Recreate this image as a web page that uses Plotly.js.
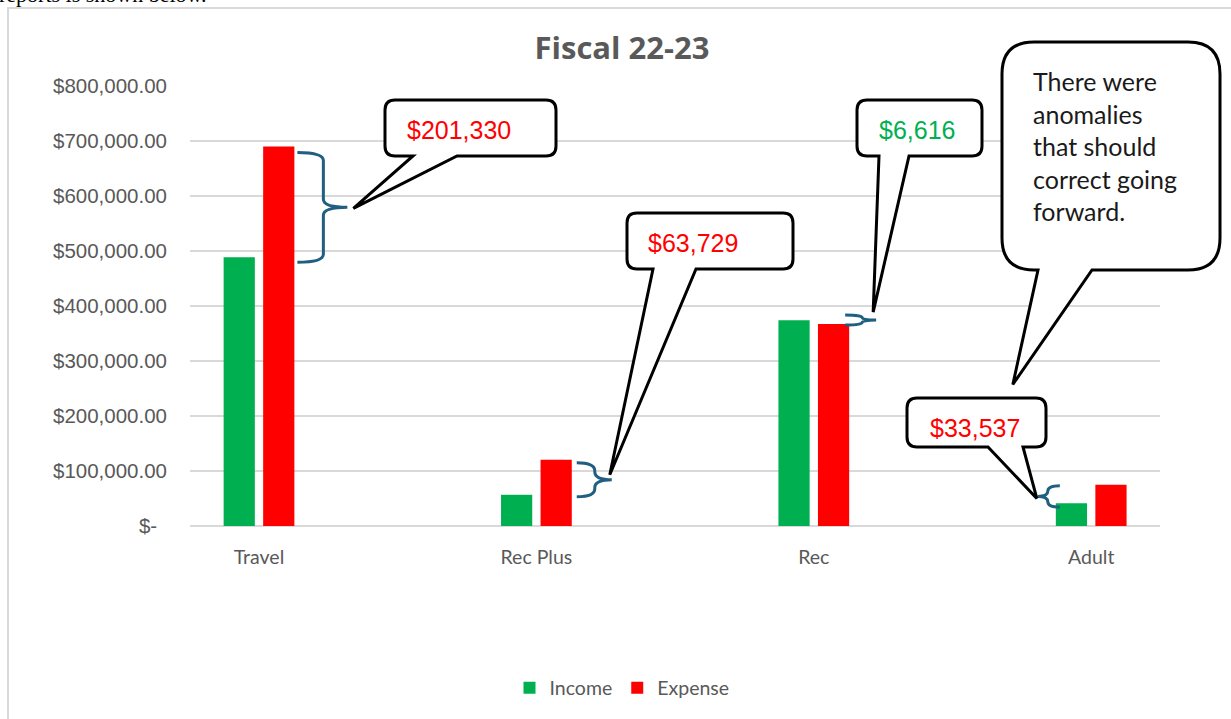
<!DOCTYPE html>
<html>
<head>
<meta charset="utf-8">
<script src="https://cdn.plot.ly/plotly-3.0.1.min.js"></script>
<style>html,body{margin:0;padding:0;background:#fff;}#chart{width:1231px;height:719px;}</style>
</head>
<body>
<div id="chart"></div>
<script>
// ---------- data ----------
const categories = ['Travel', 'Rec Plus', 'Rec', 'Adult'];
const seriesNames = ['Income', 'Expense'];
const income  = [488670, 56771, 374000, 41500];
const expense = [690000, 120500, 367384, 75037];
const yTickVals = [0, 100000, 200000, 300000, 400000, 500000, 600000, 700000, 800000];
const diffLabels = ['$201,330', '$63,729', '$6,616', '$33,537'];
const noteLines = ['There were', 'anomalies', 'that should', 'correct going', 'forward.'];
const chartTitle = 'Fiscal 22-23';
const pageText = 'reports is shown below.';

// ---------- style / geometry ----------
const W = 1231, H = 719;
const M = {l: 190, r: 71, t: 86, b: 193};
const PW = W - M.l - M.r, PH = H - M.t - M.b;
const XR = [-0.24874, 3.24802];
const YR = [0, 800000];
const BAR_W = 0.1125, INC_OFF = -0.1275, EXP_OFF = 0.015;
const C_INC = '#00B050', C_EXP = '#FF0000', C_TXT = '#595959', C_GRID = '#D9D9D9', C_BRACE = '#215F82';

const x2px = x => M.l + (x - XR[0]) / (XR[1] - XR[0]) * PW;
const y2py = y => M.t + PH - (y - YR[0]) / (YR[1] - YR[0]) * PH;
const px2p = px => (px - M.l) / PW;
const py2p = py => (M.t + PH - py) / PH;
const P = (x, y) => px2p(x).toFixed(5) + ',' + py2p(y).toFixed(5);

const xIdx = categories.map((c, i) => i);
const fmtTick = v => v === 0 ? '$-\u00a0\u2009' : '$' + v.toLocaleString('en-US', {minimumFractionDigits: 2, maximumFractionDigits: 2});

// brace styling (pixel offsets relative to the bar edges / bar tops)
const braceStyle = [
  {side: 'right', end: 3,  spine: 29, tip: 53, padTop: 6,  padBot: 5},
  {side: 'right', end: 5,  spine: 23, tip: 40, padTop: 3,  padBot: 2},
  {side: 'right', end: -4, spine: 13, tip: 27, padTop: -5, padBot: 1},
  {side: 'left',  end: 4,  spine: -8, tip: -18, padTop: 1, padBot: 4}
];
// speech bubbles (pixel boxes); tails point near the brace tips
const bubbleStyle = [
  {cat: 0, x0: 385, x1: 556, y0: 100, y1: 156, r: 10, tb: [413, 457], dx: 6,  dy: 1,  tx: 405, ty: 130, color: C_EXP},
  {cat: 1, x0: 627, x1: 793, y0: 213, y1: 269, r: 10, tb: [653, 696], dx: -2, dy: -5, tx: 646, ty: 243, color: C_EXP},
  {cat: 2, x0: 857, x1: 982, y0: 100, y1: 156, r: 10, tb: [879, 909], dx: -3, dy: -8, tx: 877, ty: 130, color: C_INC},
  {cat: 3, x0: 907, x1: 1046, y0: 398, y1: 447, r: 10, tb: [988, 1023], dx: -1, dy: 2, tx: 928, ty: 428, color: C_EXP}
];
const noteBubble = {cat: 3, x0: 1002, x1: 1220, y0: 42, y1: 270, r: 32, tb: [1038, 1092], dx: -25, dy: -112, tx: 1031, ty: 146};

// ---------- traces ----------
const traces = [
  {type: 'bar', name: seriesNames[0], x: xIdx, y: income, width: BAR_W, offset: INC_OFF,
   marker: {color: C_INC}, hoverinfo: 'skip'},
  {type: 'bar', name: seriesNames[1], x: xIdx, y: expense, width: BAR_W, offset: EXP_OFF,
   marker: {color: C_EXP}, hoverinfo: 'skip'}
];

// ---------- braces ----------
const shapes = [];
const braceTips = [];
categories.forEach((c, i) => {
  const s = braceStyle[i];
  const pi = y2py(income[i]), pe = y2py(expense[i]);
  let yTop = Math.min(pi, pe) + s.padTop, yBot = Math.max(pi, pe) + s.padBot;
  if (yBot - yTop < 10) { const m = (yTop + yBot) / 2; yTop = m - 5; yBot = m + 5; }
  const yMid = (yTop + yBot) / 2;
  const edge = s.side === 'right' ? x2px(i + EXP_OFF + BAR_W) : x2px(i + INC_OFF);
  const e = edge + s.end, sp = edge + s.spine, t = edge + s.tip;
  const rc = Math.min(8, (yBot - yTop) / 4);
  const d = 'M' + P(e, yTop) + ' Q' + P(sp, yTop) + ' ' + P(sp, yTop + rc) +
            ' L' + P(sp, yMid - rc) + ' Q' + P(sp, yMid) + ' ' + P(t, yMid) +
            ' Q' + P(sp, yMid) + ' ' + P(sp, yMid + rc) +
            ' L' + P(sp, yBot - rc) + ' Q' + P(sp, yBot) + ' ' + P(e, yBot);
  shapes.push({type: 'path', xref: 'paper', yref: 'paper', path: d, layer: 'above',
               line: {color: C_BRACE, width: 3}, fillcolor: 'rgba(0,0,0,0)'});
  braceTips.push([t, yMid]);
});

function bubblePath(b) {
  const tip = braceTips[b.cat];
  const tx = tip[0] + b.dx, ty = tip[1] + b.dy;
  const {x0, x1, y0, y1, r} = b;
  return 'M' + P(x0 + r, y0) + ' L' + P(x1 - r, y0) + ' Q' + P(x1, y0) + ' ' + P(x1, y0 + r) +
         ' L' + P(x1, y1 - r) + ' Q' + P(x1, y1) + ' ' + P(x1 - r, y1) +
         ' L' + P(b.tb[1], y1) + ' L' + P(tx, ty) + ' L' + P(b.tb[0], y1) +
         ' L' + P(x0 + r, y1) + ' Q' + P(x0, y1) + ' ' + P(x0, y1 - r) +
         ' L' + P(x0, y0 + r) + ' Q' + P(x0, y0) + ' ' + P(x0 + r, y0) + ' Z';
}
[...bubbleStyle, noteBubble].forEach(b => {
  shapes.push({type: 'path', xref: 'paper', yref: 'paper', path: bubblePath(b), layer: 'above',
               line: {color: '#000000', width: 3}, fillcolor: '#FFFFFF'});
});

// chart border
shapes.push({type: 'rect', xref: 'paper', yref: 'paper', layer: 'below',
  x0: px2p(8), x1: px2p(1245), y0: py2p(8), y1: py2p(735),
  line: {color: C_GRID, width: 2}, fillcolor: 'rgba(0,0,0,0)'});

// ---------- annotations ----------
const annotations = bubbleStyle.map((b, k) => ({
  xref: 'paper', yref: 'paper', x: px2p(b.tx), y: py2p(b.ty), xanchor: 'left', yanchor: 'middle',
  text: diffLabels[b.cat], showarrow: false,
  font: {family: 'Liberation Sans, Arial, sans-serif', size: 25, color: b.color}
}));
annotations.push({
  xref: 'paper', yref: 'paper', x: px2p(noteBubble.tx), y: py2p(noteBubble.ty), xanchor: 'left', yanchor: 'middle',
  align: 'left', text: noteLines.join('<br>'), showarrow: false,
  font: {family: 'Lato, sans-serif', size: 25, color: '#1A1A1A'}
});
annotations.push({
  xref: 'paper', yref: 'paper', x: px2p(-3), y: py2p(8.5), xanchor: 'left', yanchor: 'bottom',
  text: pageText, showarrow: false,
  font: {family: 'Liberation Serif, Times New Roman, serif', size: 22, color: '#000000'}
});

// ---------- layout ----------
const layout = {
  width: W, height: H,
  margin: M,
  paper_bgcolor: '#FFFFFF', plot_bgcolor: '#FFFFFF',
  title: {text: '<b>' + chartTitle + '</b>', xref: 'container', yref: 'container',
          x: 622 / W, y: 1 - 48 / H, xanchor: 'center', yanchor: 'middle',
          font: {family: 'Open Sans, sans-serif', size: 31, color: C_TXT}},
  barmode: 'overlay',
  showlegend: true,
  legend: {orientation: 'h', xref: 'paper', yref: 'paper', x: px2p(622), y: py2p(688),
           xanchor: 'center', yanchor: 'middle', itemwidth: 30,
           font: {family: 'Lato, sans-serif', size: 19.5, color: C_TXT}},
  xaxis: {type: 'linear', range: XR, tickvals: xIdx, ticktext: categories,
          showgrid: false, zeroline: false, showline: false, ticks: '',
          ticklabelstandoff: 17, fixedrange: true,
          tickfont: {family: 'Lato, sans-serif', size: 19.5, color: C_TXT}},
  yaxis: {range: YR, tickvals: yTickVals, ticktext: yTickVals.map(fmtTick),
          showgrid: true, gridcolor: C_GRID, gridwidth: 1.5,
          zeroline: true, zerolinecolor: C_GRID, zerolinewidth: 1.5,
          showline: false, ticks: '', ticklabelstandoff: 22, fixedrange: true,
          tickfont: {family: 'Liberation Sans, Arial, sans-serif', size: 20.5, color: C_TXT}},
  shapes: shapes,
  annotations: annotations
};

Plotly.newPlot('chart', traces, layout, {staticPlot: true, displayModeBar: false});
</script>
</body>
</html>
